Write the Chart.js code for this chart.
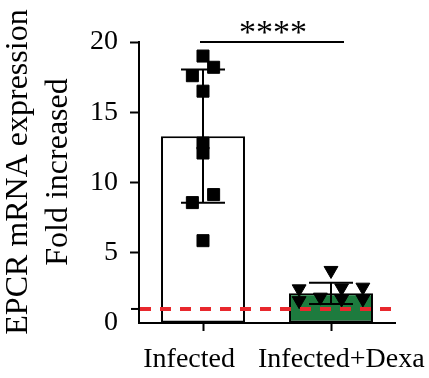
<!DOCTYPE html>
<html><head><meta charset="utf-8">
<script src="https://cdn.jsdelivr.net/npm/chart.js@4.4.1/dist/chart.umd.min.js"></script>
<style>html,body{margin:0;padding:0;background:#fff;}#wrap{width:429px;height:378px;}</style>
</head><body><div id="wrap"><canvas id="c" width="429" height="378"></canvas></div>
<script>
// ---- data ----
const categories = ['Infected', 'Infected+Dexa'];
const barMeans = [13.3, 2.11];
const barSD = [4.75, 0.75];
const infectedValues = [19.0, 18.2, 17.6, 16.5, 12.8, 12.1, 9.14, 8.57, 5.86];
const infectedSlots  = [0, 1, -1, 0, 0, 0, 1, -1, 0];
const dexaValues = [3.74, 2.43, 2.5, 2.55, 1.84, 1.71, 1.71, 1.59];
const dexaSlots  = [0, -3, 1, 3, -1, 1, 3, -3];
const yTicks = [0, 5, 10, 15, 20];
const referenceLevel = 1;
const sigLevel = 20;
const sigText = '****';
const yTitle = ['EPCR mRNA expression', 'Fold increased'];

// ---- styling ----
const FONT = "'Liberation Serif', 'Times New Roman', serif";
const SLOT = 0.083;
const toPts = (vals, slots, cat) => vals.map((v, i) => ({x: cat + slots[i] * SLOT, y: v}));

const annot = {
  id: 'annot',
  afterDatasetDraw(chart, args) {
    if (args.index !== 2) return;
    const {ctx, scales: {x, y}} = chart;
    ctx.save();
    ctx.strokeStyle = '#000'; ctx.lineWidth = 2;
    barMeans.forEach((m, i) => {
      const cx = x.getPixelForValue(i);
      const t = y.getPixelForValue(m + barSD[i]);
      const b = y.getPixelForValue(m - barSD[i]);
      ctx.beginPath();
      ctx.moveTo(cx, t); ctx.lineTo(cx, b);
      ctx.moveTo(cx - 22, t); ctx.lineTo(cx + 22, t);
      ctx.moveTo(cx - 22, b); ctx.lineTo(cx + 22, b);
      ctx.stroke();
    });
    ctx.restore();
  },
  afterDatasetsDraw(chart) {
    const {ctx, chartArea: ca, scales: {x, y}} = chart;
    ctx.save();
    // reference line
    const ry = y.getPixelForValue(referenceLevel);
    ctx.strokeStyle = '#e8282d'; ctx.lineWidth = 4;
    ctx.setLineDash([11, 9]);
    ctx.beginPath(); ctx.moveTo(ca.left + 1, ry); ctx.lineTo(ca.right, ry); ctx.stroke();
    ctx.setLineDash([]);
    ctx.strokeStyle = '#000'; ctx.lineWidth = 2;
    ctx.beginPath(); ctx.moveTo(ca.left - 8, ry); ctx.lineTo(ca.left, ry); ctx.stroke();
    // significance
    const sy = y.getPixelForValue(sigLevel);
    const x0 = x.getPixelForValue(0) - 3, x1 = x.getPixelForValue(1) + 13;
    ctx.beginPath(); ctx.moveTo(x0, sy); ctx.lineTo(x1, sy); ctx.stroke();
    ctx.fillStyle = '#000';
    ctx.font = '34px ' + FONT;
    ctx.textAlign = 'center'; ctx.textBaseline = 'alphabetic';
    ctx.fillText(sigText, (x0 + x1) / 2 + 1, sy + 1);
    // category labels
    ctx.font = '28px ' + FONT;
    ctx.textAlign = 'right';
    ctx.fillText(categories[0], x.getPixelForValue(0) + 32, 367);
    ctx.textAlign = 'left';
    ctx.fillText(categories[1], x.getPixelForValue(1) - 73, 367);
    // y title
    ctx.font = '32px ' + FONT;
    ctx.textAlign = 'center';
    ctx.translate(0, 172);
    ctx.rotate(-Math.PI / 2);
    ctx.fillText(yTitle[0], 0, 27);
    ctx.fillText(yTitle[1], 0, 67);
    ctx.restore();
  }
};

Chart.defaults.font.family = FONT;
new Chart(document.getElementById('c'), {
  type: 'bar',
  data: {
    datasets: [
      {type: 'scatter', data: toPts(infectedValues, infectedSlots, 0), pointStyle: 'rect',
       radius: 8.5, backgroundColor: '#000', borderColor: '#000', borderWidth: 1, order: 1},
      {type: 'scatter', data: toPts(dexaValues, dexaSlots, 1), pointStyle: 'triangle', rotation: 180,
       radius: 8, backgroundColor: '#000', borderColor: '#000', borderWidth: 1, order: 1},
      {type: 'bar', data: barMeans.map((m, i) => ({x: i, y: m})),
       backgroundColor: ['#ffffff', '#1d7b3e'], borderColor: '#000', borderWidth: 2,
       borderSkipped: false, barPercentage: 0.656, categoryPercentage: 1, order: 2}
    ]
  },
  options: {
    responsive: false, animation: false, devicePixelRatio: 1,
    layout: {padding: {left: 0, right: 34, top: 42, bottom: 0}},
    plugins: {legend: {display: false}, tooltip: {enabled: false}},
    scales: {
      x: {type: 'linear', min: -0.5, max: 1.5, offset: false,
          afterBuildTicks: s => { s.ticks = categories.map((c, i) => ({value: i})); },
          afterFit: s => { s.height = 55; },
          ticks: {display: false},
          grid: {offset: false, drawOnChartArea: false, drawTicks: true, tickLength: 8, tickColor: '#000', tickWidth: 2},
          border: {display: true, color: '#000', width: 2}},
      y: {min: 0, max: 20,
          afterBuildTicks: s => { s.ticks = yTicks.map(v => ({value: v})); },
          afterFit: s => { s.width = 139; },
          ticks: {color: '#000', font: {family: FONT, size: 28}, padding: 12},
          grid: {drawOnChartArea: false, tickLength: 9, tickWidth: 2,
                 tickColor: c => (c.tick && c.tick.value === 0) ? 'rgba(0,0,0,0)' : '#000'},
          border: {display: true, color: '#000', width: 2}}
    }
  },
  plugins: [annot]
});
</script></body></html>
